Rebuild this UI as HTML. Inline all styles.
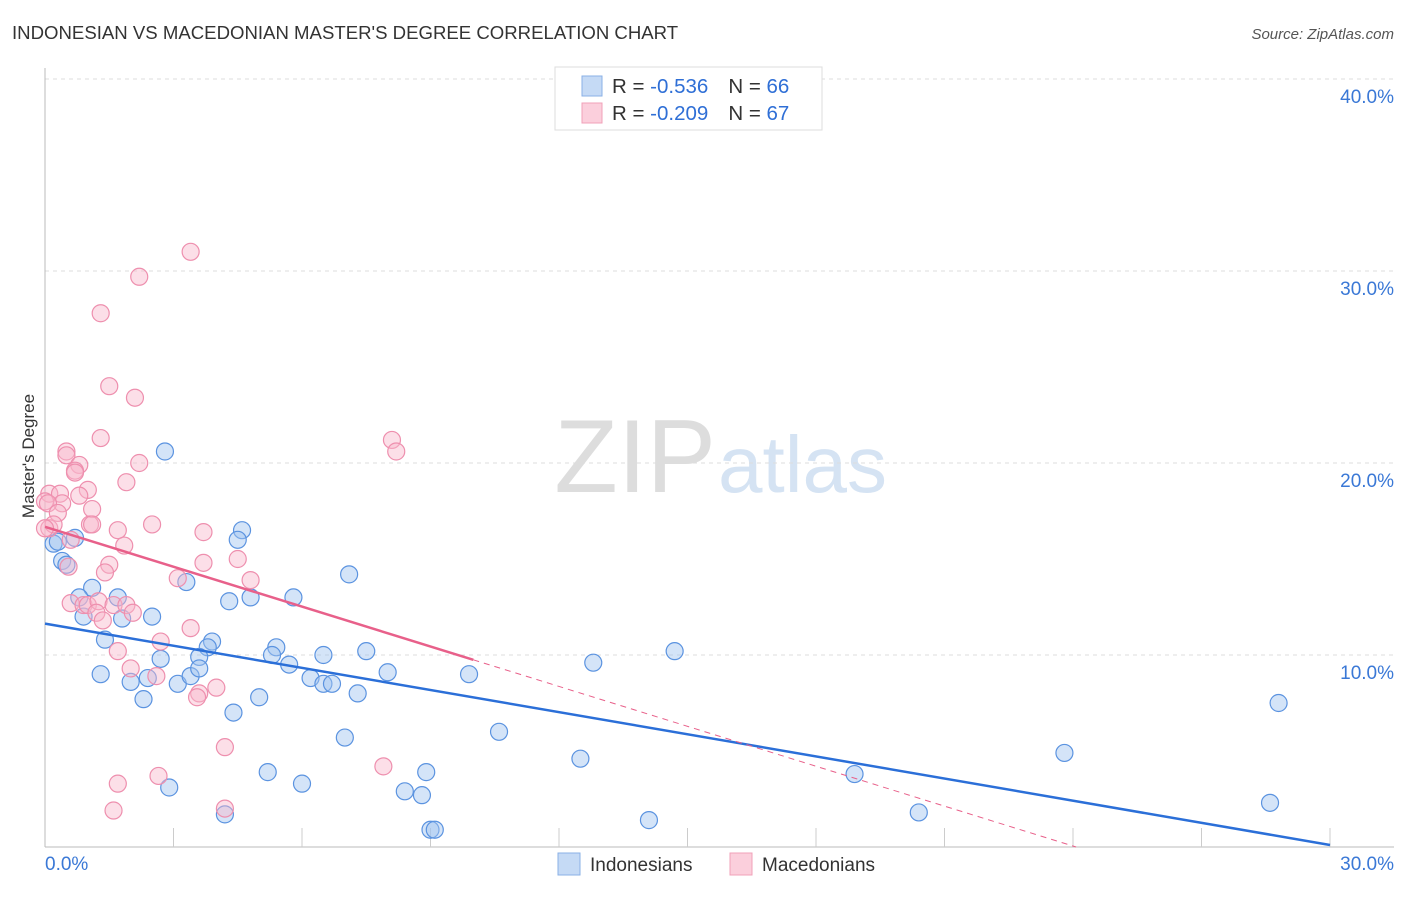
<!DOCTYPE html>
<html><head><meta charset="utf-8">
<style>
body{margin:0;background:#fff;font-family:"Liberation Sans",sans-serif;}
svg text{font-family:"Liberation Sans",sans-serif;}
</style></head>
<body>
<svg id="chart" width="1406" height="892">
<text x="12" y="39" font-size="18.6" fill="#333">INDONESIAN VS MACEDONIAN MASTER'S DEGREE CORRELATION CHART</text>
<text x="1394" y="39" font-size="15" fill="#555" text-anchor="end" font-style="italic">Source: ZipAtlas.com</text>
<text x="716" y="492" font-size="104" fill="#ddd" text-anchor="end" font-family="Liberation Serif">ZIP</text>
<text x="718" y="492" font-size="80" fill="#d5e3f3">atlas</text>
<g id="grid"></g>
<g id="axes"></g>
<g id="pts"></g>
<g id="lines"></g>
<text transform="translate(34,456) rotate(-90)" font-size="17" fill="#333" text-anchor="middle">Master's Degree</text>
<g>
<rect x="555" y="67" width="267" height="63" fill="#fff" stroke="#ddd"/>
<rect x="582" y="76" width="20" height="20" fill="#c5daf5" stroke="#8ab0e6"/>
<rect x="582" y="103" width="20" height="20" fill="#fbcfdc" stroke="#f0a0b8"/>
<text x="612" y="93" font-size="20.5" fill="#333">R = <tspan fill="#2f6fd6">-0.536</tspan><tspan dx="20">N = </tspan><tspan fill="#2f6fd6">66</tspan></text>
<text x="612" y="120" font-size="20.5" fill="#333">R = <tspan fill="#2f6fd6">-0.209</tspan><tspan dx="20">N = </tspan><tspan fill="#2f6fd6">67</tspan></text>
</g>
<g>
<rect x="558" y="853" width="22" height="22" fill="#c5daf5" stroke="#8ab0e6"/>
<text x="590" y="871" font-size="19" fill="#333">Indonesians</text>
<rect x="730" y="853" width="22" height="22" fill="#fbcfdc" stroke="#f0a0b8"/>
<text x="762" y="871" font-size="19" fill="#333">Macedonians</text>
</g>
</svg>
<script>
const blueX=[2.8,4.6,4.5,0.7,0.2,0.3,0.4,0.5,1.1,3.3,7.1,0.8,1.7,2.5,0.9,1.8,4.8,4.3,5.8,1.4,3.9,3.8,5.4,2.7,3.6,5.3,5.7,6.5,7.5,8.0,9.9,12.8,14.7,1.3,2.0,2.4,3.1,3.4,3.6,6.2,6.5,6.7,7.3,2.3,5.0,4.4,7.0,10.6,12.5,5.2,8.9,18.9,23.8,28.8,2.9,6.0,8.4,8.8,4.2,9.0,9.1,14.1,20.4,28.6];
const blueY=[20.6,16.5,16.0,16.1,15.8,15.9,14.9,14.7,13.5,13.8,14.2,13.0,13.0,12.0,12.0,11.9,13.0,12.8,13.0,10.8,10.7,10.4,10.4,9.8,9.9,10.0,9.5,10.0,10.2,9.1,9.0,9.6,10.2,9.0,8.6,8.8,8.5,8.9,9.3,8.8,8.5,8.5,8.0,7.7,7.8,7.0,5.7,6.0,4.6,3.9,3.9,3.8,4.9,7.5,3.1,3.3,2.9,2.7,1.7,0.9,0.9,1.4,1.8,2.3];
const pinkX=[3.4,2.2,1.3,1.5,2.1,8.1,8.2,1.3,0.5,0.5,0.8,2.2,0.7,0.7,1.9,1.0,0.1,0.35,0.0,0.8,0.4,0.07,0.3,1.1,0.1,0.2,0.0,1.05,1.7,2.5,1.1,3.7,4.5,3.7,1.85,0.6,0.55,1.5,1.4,3.1,4.8,0.6,0.9,1.0,1.25,1.6,1.2,1.9,2.05,1.35,3.4,2.7,1.7,2.0,2.6,3.6,3.55,4.0,4.2,7.9,2.65,1.7,4.2,1.6];
const pinkY=[31.0,29.7,27.8,24.0,23.4,21.2,20.6,21.3,20.6,20.4,19.9,20.0,19.6,19.5,19.0,18.6,18.4,18.4,18.0,18.3,17.9,17.9,17.4,17.6,16.6,16.8,16.6,16.8,16.5,16.8,16.8,16.4,15.0,14.8,15.7,16.0,14.6,14.7,14.3,14.0,13.9,12.7,12.6,12.6,12.8,12.6,12.2,12.6,12.2,11.8,11.4,10.7,10.2,9.3,8.9,8.0,7.8,8.3,5.2,4.2,3.7,3.3,2.0,1.9];
const X0=45,X1=1330,Y0=847,YT=79;
const sx=v=>X0+(X1-X0)*v/30, sy=v=>Y0-(Y0-YT)*v/40;
const NS="http://www.w3.org/2000/svg";
function mk(tag,attrs,parent){const e=document.createElementNS(NS,tag);for(const k in attrs)e.setAttribute(k,attrs[k]);parent.appendChild(e);return e;}
const grid=document.getElementById('grid'),axes=document.getElementById('axes');
const yTicks=[10,20,30,40];
yTicks.forEach(t=>{
 const l=mk('line',{x1:45,x2:1394,y1:sy(t),y2:sy(t),stroke:'#ddd','stroke-dasharray':'4,4'},grid);
 
 
 const tx=mk('text',{x:1394,y:sy(t)+24,'font-size':19,fill:'#3a78d6','text-anchor':'end'},axes);tx.textContent=t.toFixed(1)+'%';
 
 
});
mk('line',{x1:45,x2:45,y1:68,y2:847,stroke:'#bbb'},axes);
mk('line',{x1:45,x2:1394,y1:847,y2:847,stroke:'#bbb'},axes);
for(let i=1;i<=10;i++){mk('line',{x1:sx(i*3),x2:sx(i*3),y1:828,y2:847,stroke:'#ccc'},axes);}
const xl=mk('text',{x:45,y:870,'font-size':19,fill:'#3a78d6'},axes);xl.textContent='0.0%';


const xr=mk('text',{x:1394,y:870,'font-size':19,fill:'#3a78d6','text-anchor':'end'},axes);xr.textContent='30.0%';


const pts=document.getElementById('pts');
blueX.forEach((v,i)=>{const c=mk('circle',{cx:sx(v),cy:sy(blueY[i]),r:8.5,fill:'rgba(160,196,240,0.45)',stroke:'#5b93e0','stroke-width':1.2},pts);
 
 });
pinkX.forEach((v,i)=>{const c=mk('circle',{cx:sx(v),cy:sy(pinkY[i]),r:8.5,fill:'rgba(248,184,204,0.45)',stroke:'#ee8fae','stroke-width':1.2},pts);
 
 });
function fit(xs,ys){const n=xs.length;let mx=0,my=0;for(let i=0;i<n;i++){mx+=xs[i];my+=ys[i];}mx/=n;my/=n;let a=0,b=0;for(let i=0;i<n;i++){a+=(xs[i]-mx)*(ys[i]-my);b+=(xs[i]-mx)**2;}const m=a/b;return[m,my-m*mx];}
const lines=document.getElementById('lines');
const [bm,bb]=fit(blueX,blueY);
const bl=mk('line',{x1:sx(0),y1:sy(bb),x2:sx(30),y2:sy(bb+bm*30),stroke:'#2b6fd8','stroke-width':2.5},lines);


let [pm,pb]=fit(pinkX,pinkY);
pm=pm*0.96;
const pl=mk('line',{x1:sx(0),y1:sy(pb),x2:sx(10),y2:sy(pb+pm*10),stroke:'#e8608a','stroke-width':2.5},lines);


const xe=Math.min(30,-pb/pm);
const pd=mk('line',{x1:sx(10),y1:sy(pb+pm*10),x2:sx(xe),y2:sy(pb+pm*xe),stroke:'#e8608a','stroke-width':1,'stroke-dasharray':'6,5'},lines);


</script>
</body></html>
